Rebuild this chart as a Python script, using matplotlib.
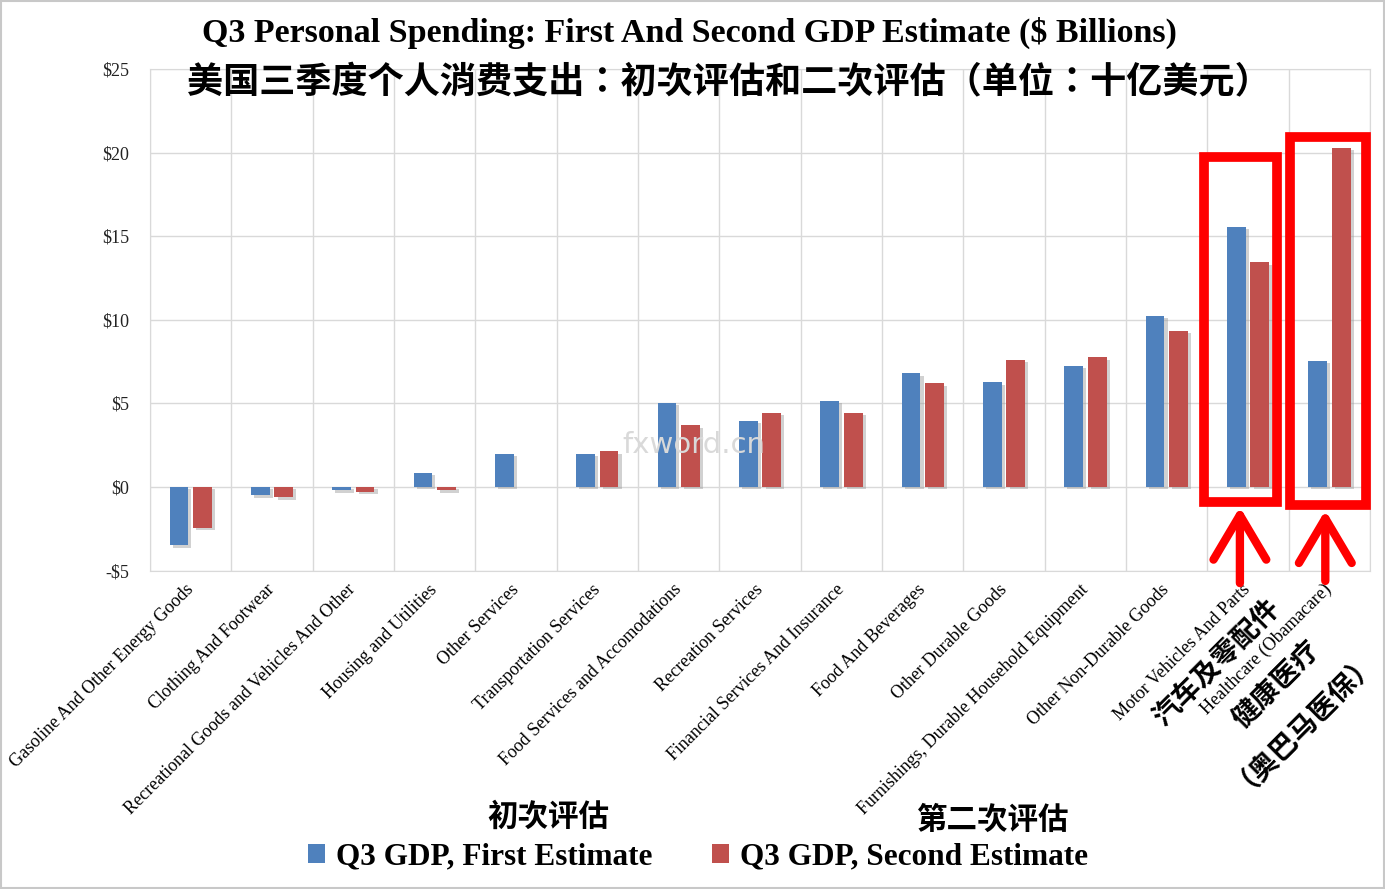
import numpy as np
import matplotlib
matplotlib.use("Agg")
import matplotlib.pyplot as plt
from matplotlib.patches import Patch, Rectangle

# values ($ billions)
categories = [
    "Gasoline And Other Energy Goods",
    "Clothing And Footwear",
    "Recreational Goods and Vehicles And Other",
    "Housing and Utilities",
    "Other Services",
    "Transportation Services",
    "Food Services and Accomodations",
    "Recreation Services",
    "Financial Services And Insurance",
    "Food And Beverages",
    "Other Durable Goods",
    "Furnishings, Durable Household Equipment",
    "Other Non-Durable Goods",
    "Motor Vehicles And Parts",
    "Healthcare (Obamacare)",
]
first_estimate = [-3.5, -0.5, -0.2, 0.85, 2.0, 2.0, 5.05, 3.95, 5.15, 6.8, 6.25, 7.25, 10.25, 15.55, 7.55]
second_estimate = [-2.45, -0.6, -0.3, -0.2, 0.0, 2.15, 3.7, 4.45, 4.45, 6.2, 7.6, 7.75, 9.35, 13.45, 20.3]
y_ticks = [-5, 0, 5, 10, 15, 20, 25]
y_labels = ["-$5", "$0", "$5", "$10", "$15", "$20", "$25"]

title_en = "Q3 Personal Spending: First And Second GDP Estimate ($ Billions)"
title_cn = "美国三季度个人消费支出：初次评估和二次评估（单位：十亿美元）"
legend_labels = ["Q3 GDP, First Estimate", "Q3 GDP, Second Estimate"]

BLUE = "#4F81BD"
RED = "#C0504D"
SERIF = "Liberation Serif"
CJK = ["Noto Sans CJK TC", "DejaVu Sans"]

fig = plt.figure(figsize=(13.85, 8.89), dpi=100)
ax = fig.add_axes([0.1083, 0.3582, 0.8809, 0.5642])

x = np.arange(len(categories))
w = 0.23
off = 0.145

# soft drop shadows
for xs, vals in ((x - off, first_estimate), (x + off, second_estimate)):
    ax.bar(xs + 0.04, vals, w, bottom=-0.15, color="#9a9a9a", alpha=0.45, zorder=2, linewidth=0)
ax.bar(x - off, first_estimate, w, color=BLUE, zorder=3, linewidth=0)
ax.bar(x + off, second_estimate, w, color=RED, zorder=3, linewidth=0)

ax.set_xlim(-0.5, len(categories) - 0.5)
ax.set_ylim(-5, 25)
ax.set_yticks(y_ticks)
ax.set_yticklabels(y_labels, fontfamily=SERIF, fontsize=13, color="#222222")
ax.set_xticks(x)
ax.set_xticklabels(categories, rotation=45, ha="right", va="center",
                   rotation_mode="anchor", fontfamily=SERIF, fontsize=13)
ax.set_xticks(np.arange(-0.5, len(categories)), minor=True)
ax.tick_params(axis="both", which="both", length=0)
ax.tick_params(axis="y", pad=15)
ax.tick_params(axis="x", pad=12)
ax.grid(True, axis="y", which="major", color="#d9d9d9", linewidth=1)
ax.grid(True, axis="x", which="minor", color="#d9d9d9", linewidth=1)
ax.set_axisbelow(True)
for side in ax.spines:
    ax.spines[side].set_color("#d9d9d9")

# watermark
ax.text(0.446, 0.25, "fxword.cn", transform=ax.transAxes, ha="center", va="center",
        fontsize=21, color="#d9d9d9", fontfamily="DejaVu Sans", zorder=4)

# red highlight boxes and arrows
for x0, x1, y0, y1 in ((12.46, 13.35, -0.9, 19.74), (13.52, 14.45, -1.08, 20.93)):
    ax.add_patch(Rectangle((x0, y0), x1 - x0, y1 - y0, fill=False, edgecolor="#FF0000",
                           linewidth=7, zorder=5, clip_on=False, joinstyle="miter"))
for ax_x, tip, tail in ((12.90, -1.2, -5.75), (13.95, -1.4, -5.62)):
    ax.annotate("", xy=(ax_x, tip), xytext=(ax_x, tail),
                arrowprops=dict(arrowstyle="->,head_length=3.2,head_width=1.9",
                                color="#FF0000", lw=6, capstyle="round",
                                shrinkA=0, shrinkB=0),
                annotation_clip=False, zorder=5)

# titles
fig.text(0.498, 0.963, title_en, ha="center", va="center", fontsize=24.5,
         fontfamily=SERIF, fontweight="bold")
fig.text(0.526, 0.907, title_cn, ha="center", va="center", fontsize=26,
         fontfamily=CJK, fontweight="bold")

# chinese annotations
fig.text(0.3957, 0.081, "初次评估", ha="center", va="center", fontsize=22,
         fontfamily=CJK, fontweight="bold")
fig.text(0.717, 0.0776, "第二次评估", ha="center", va="center", fontsize=22,
         fontfamily=CJK, fontweight="bold")
fig.text(1217 / 1385, 1 - 663 / 889, "汽车及零配件", ha="center", va="center", rotation=45,
         fontsize=20, fontfamily=CJK, fontweight="bold")
fig.text(1277 / 1385, 1 - 685 / 889, "健康医疗", ha="center", va="center", rotation=45,
         fontsize=20, fontfamily=CJK, fontweight="bold")
fig.text(1300 / 1385, 1 - 715 / 889, "（奥巴马医保）", ha="center", va="center", rotation=45,
         fontsize=20, fontfamily=CJK, fontweight="bold")

# legend
handles = [Patch(facecolor=BLUE, label=legend_labels[0]),
           Patch(facecolor=RED, label=legend_labels[1])]
fig.legend(handles=handles, loc="center", bbox_to_anchor=(0.504, 0.036), ncol=2,
           frameon=False, prop={"family": SERIF, "size": 22.5, "weight": "bold"},
           handlelength=0.55, handleheight=0.55, handletextpad=0.35, columnspacing=1.9)

# thin frame around the picture
fig.patches.append(Rectangle((0.0005, 0.001), 0.999, 0.998, transform=fig.transFigure,
                             fill=False, edgecolor="#c8c8c8", linewidth=1.5))

fig.savefig("out.png", dpi=100)
